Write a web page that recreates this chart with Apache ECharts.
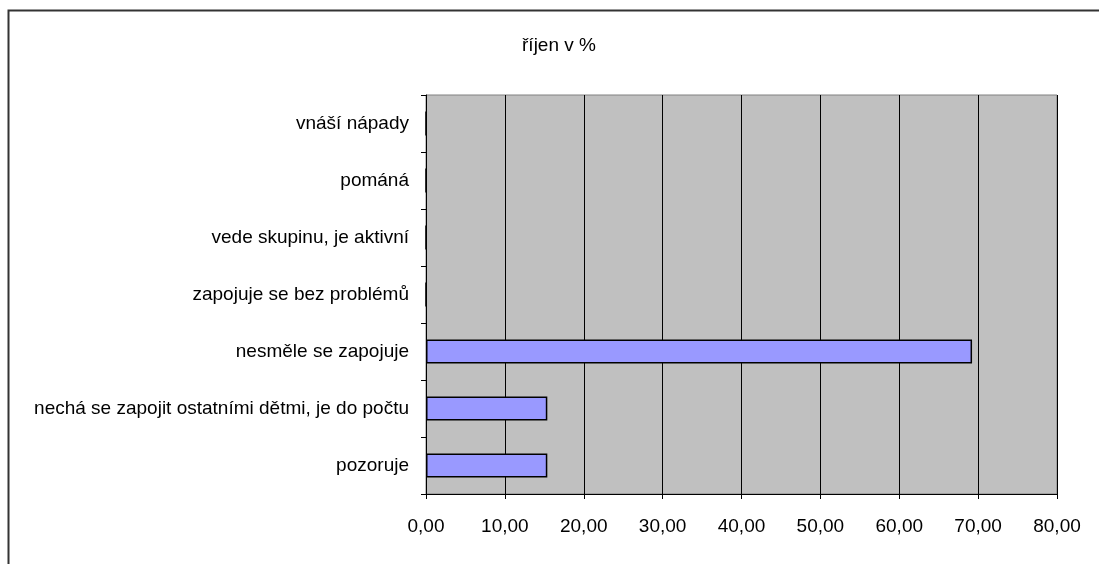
<!DOCTYPE html>
<html><head><meta charset="utf-8">
<script src="https://cdn.jsdelivr.net/npm/echarts@6/dist/echarts.min.js"></script>
<style>html,body{margin:0;padding:0;background:#fff}#c{width:1099px;height:564px}</style>
</head><body><div id="c"></div>
<script>
const categories = ['pozoruje','nechá se zapojit ostatními dětmi, je do počtu','nesměle se zapojuje','zapojuje se bez problémů','vede skupinu, je aktivní','pománá','vnáší nápady'];
const values = [15.38, 15.38, 69.23, 0, 0, 0, 0];
const titleText = 'říjen v %';
const chart = echarts.init(document.getElementById('c'), null, {renderer:'canvas'});
const font = 'Liberation Sans, Arial, sans-serif';
chart.setOption({
  animation:false,
  backgroundColor:'#fff',
  title:{text:titleText,left:554,top:31,textAlign:'center',textStyle:{fontFamily:font,fontSize:19,fontWeight:'normal',color:'#000'}},
  graphic:[{type:'rect',shape:{x:8.5,y:10.5,width:1200,height:700},style:{fill:'none',stroke:'#333',lineWidth:2},silent:true,z:-1},
           {type:'rect',shape:{x:426,y:95,width:631,height:399},style:{fill:'#c0c0c0',stroke:'#808080',lineWidth:1},silent:true,z:-1}],
  grid:{left:426,top:95,width:631,height:399,containLabel:false},
  xAxis:{type:'value',min:0,max:80,interval:10,
    axisLine:{show:true,lineStyle:{color:'#000',width:1}},
    axisTick:{show:true,length:5,lineStyle:{color:'#000'}},
    axisLabel:{fontFamily:font,fontSize:19,color:'#000',margin:23,formatter:v=>v.toFixed(2).replace('.',',')},
    splitLine:{show:true,lineStyle:{color:'#000',width:1}}},
  yAxis:{type:'category',data:categories,
    axisLine:{show:true,lineStyle:{color:'#000',width:1}},
    axisTick:{show:true,length:5,lineStyle:{color:'#000'}},
    axisLabel:{fontFamily:font,fontSize:19,color:'#000',margin:17},
    splitLine:{show:false}},
  series:[{type:'bar',data:values,barWidth:'42%',
    itemStyle:{color:'#9999ff',borderColor:'#000',borderWidth:1.5}}]
});
</script></body></html>
